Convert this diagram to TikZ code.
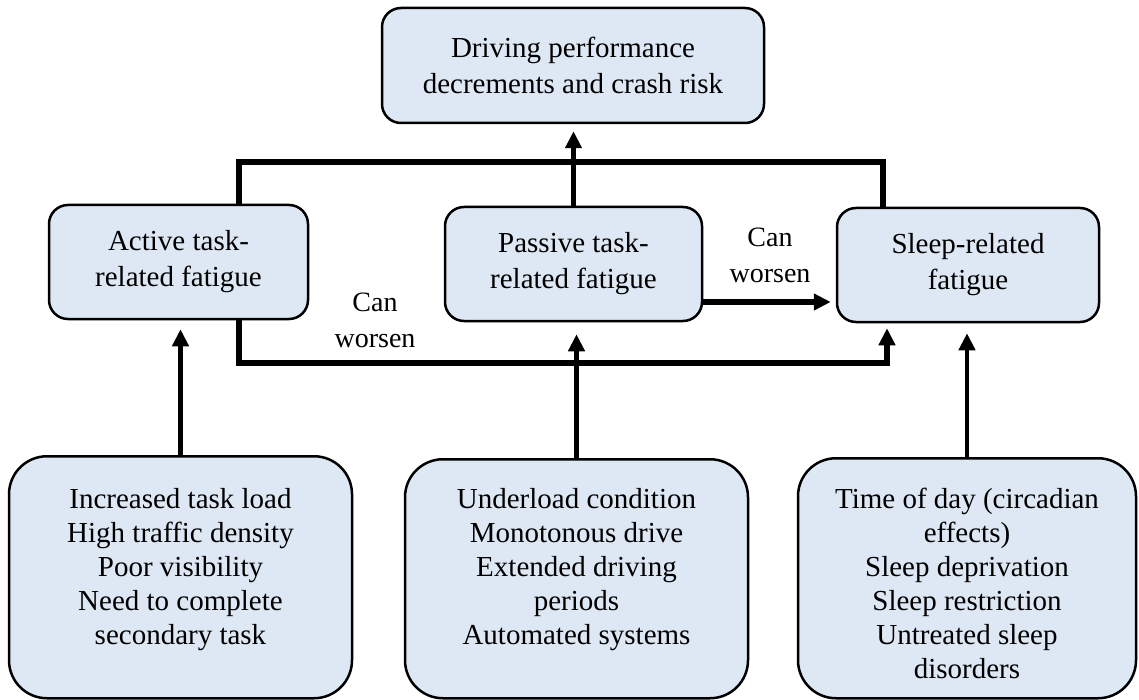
\documentclass[tikz,border=0pt]{standalone}
\usepackage{fontspec}
\setmainfont{Liberation Serif}
\usetikzlibrary{arrows.meta}
\definecolor{boxfill}{HTML}{DDE8F4}
\begin{document}
\begin{tikzpicture}[x=1pt,y=-1pt,
  box/.style={draw=black, line width=2.5pt, fill=boxfill, rounded corners=19pt, align=center,
    font=\fontsize{29}{36}\selectfont, inner sep=0pt},
  bbox/.style={box, rounded corners=38pt, font=\fontsize{29}{34}\selectfont, anchor=north},
  conn/.style={line width=5.5pt},
  tip/.style={-{Triangle[length=17pt,width=16pt]}},
  arr/.style={line width=4.5pt, tip},
  lbl/.style={align=center, font=\fontsize{28}{36}\selectfont}]
\useasboundingbox (0,0) rectangle (1139,700);
\fill[white] (0,0) rectangle (1139,700);

% boxes
\node[box, minimum width=382pt, minimum height=115pt] (top) at (573,65.5)
  {Driving performance\\decrements and crash risk};
\node[box, minimum width=259pt, minimum height=114pt] (active) at (178.5,262)
  {Active task-\\related fatigue};
\node[box, minimum width=257pt, minimum height=114pt] (passive) at (573.5,264)
  {Passive task-\\related fatigue};
\node[box, minimum width=262pt, minimum height=114pt] (sleep) at (968,265)
  {Sleep-related\\fatigue};

\node[bbox, minimum width=343pt] (b1) at (180.5,455)
  {\parbox[c][242pt][t]{330pt}{\centering\vspace*{32pt}Increased task load\\High traffic density\\Poor visibility\\Need to complete\\secondary task}};
\node[bbox, minimum width=343pt] (b2) at (576.5,458)
  {\parbox[c][239pt][t]{330pt}{\centering\vspace*{29pt}Underload condition\\Monotonous drive\\Extended driving\\periods\\Automated systems}};
\node[bbox, minimum width=338pt] (b3) at (967,457)
  {\parbox[c][240pt][t]{325pt}{\centering\vspace*{30pt}Time of day (circadian\\effects)\\Sleep deprivation\\Sleep restriction\\Untreated sleep\\disorders}};

% labels
\node[lbl] (cw1) at (375,320) {Can\\worsen};
\node[lbl] (cw2) at (770,255) {Can\\worsen};

% connectors
\coordinate (tl) at (239,162);
\coordinate (tr) at (883,162);
\draw[conn] (active.north -| tl) -- (tl) -- (tr) -- (sleep.north -| tr);
\draw[arr, shorten >=7pt] (passive.north) -- (passive.north |- top.south);

\draw[conn, tip, shorten >=5pt] ([yshift=-38pt]passive.east) -- ([yshift=-38pt]passive.east -| sleep.west);

\coordinate (bl) at (239,363);
\coordinate (br) at (887,363);
\draw[conn, tip, shorten >=5pt] (active.south -| bl) -- (bl) -- (br) -- (sleep.south -| br);

\draw[arr, shorten >=9pt] (b1.north) -- (b1.north |- active.south);
\draw[arr, shorten >=12pt] (b2.north) -- (b2.north |- passive.south);
\draw[arr, shorten >=10pt] (b3.north) -- (b3.north |- sleep.south);
\end{tikzpicture}
\end{document}
